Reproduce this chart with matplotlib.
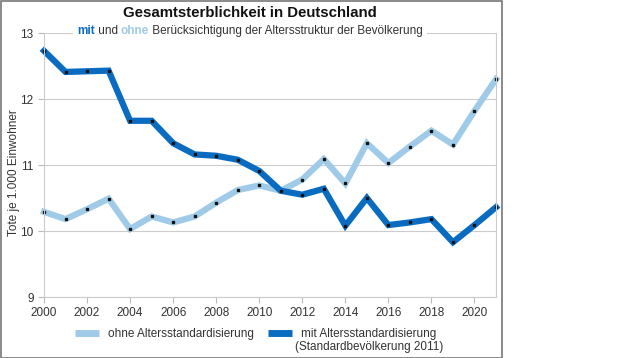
import numpy as np
import matplotlib
matplotlib.use("Agg")
import matplotlib.pyplot as plt
from matplotlib.patches import Rectangle

plt.rcParams['font.family'] = ['Liberation Sans', 'DejaVu Sans']

# data
years = list(range(2000, 2022))
ohne = [10.29, 10.18, 10.33, 10.49, 10.03, 10.22, 10.13, 10.22, 10.43, 10.62, 10.69,
        10.61, 10.78, 11.09, 10.72, 11.33, 11.03, 11.28, 11.52, 11.31, 11.82, 12.30]
mit = [12.73, 12.41, 12.42, 12.43, 11.67, 11.67, 11.33, 11.16, 11.14, 11.08, 10.91,
       10.61, 10.55, 10.64, 10.08, 10.50, 10.09, 10.13, 10.18, 9.83, 10.09, 10.36]
xticks = list(range(2000, 2021, 2))
yticks = [9, 10, 11, 12, 13]

dark = '#0a6cc0'
light = '#9fcbe8'
grey_text = '#333333'

fig = plt.figure(figsize=(6.4, 3.58), dpi=100)
W, H = 640, 358

# outer frame
fig.patches.append(Rectangle((0.5 / W, 0.5 / H), 501 / W, 1 - 1.5 / H, transform=fig.transFigure,
                             fill=False, edgecolor='#777777', linewidth=1.2))

ax = fig.add_axes([44 / W, 61 / H, 452 / W, 264 / H])
ax.set_xlim(2000, 2021)
ax.set_ylim(9, 13)
ax.set_xticks(xticks)
ax.set_yticks(yticks)
ax.grid(axis='y', color='#cccccc', linewidth=0.8)
ax.set_axisbelow(True)
for s in ax.spines.values():
    s.set_color('#cccccc')
    s.set_linewidth(0.8)
ax.spines['top'].set_visible(False)
ax.tick_params(colors='#bbbbbb', labelcolor=grey_text, labelsize=8.5, length=4, width=0.8)

l1, = ax.plot(years, ohne, color=light, lw=4.5, solid_joinstyle='miter',
              marker='s', ms=1.6, mfc='#111111', mec='#111111',
              label='ohne Altersstandardisierung', clip_on=False)
l2, = ax.plot(years, mit, color=dark, lw=4.5, solid_joinstyle='miter',
              marker='s', ms=1.6, mfc='#111111', mec='#111111',
              label='mit Altersstandardisierung', clip_on=False)

ax.set_ylabel('Tote je 1.000 Einwohner', fontsize=8.5, color=grey_text)
ax.yaxis.set_label_coords(-24 / 452, 0.47)

# title
fig.text(250 / W, 1 - 13 / H, 'Gesamtsterblichkeit in Deutschland', ha='center', va='center',
         fontsize=10.8, fontweight='bold', color='#111111')

# subtitle built from coloured pieces
pieces = [('mit', dark, 'bold'), (' und ', grey_text, 'normal'), ('ohne', light, 'bold'),
          (' Berücksichtigung der Altersstruktur der Bevölkerung', grey_text, 'normal')]
fig.canvas.draw()
r = fig.canvas.get_renderer()
texts = []
for s, c, w in pieces:
    t = fig.text(0, 1 - 31 / H, s, fontsize=8.5, color=c, fontweight=w, va='center', ha='left')
    texts.append(t)
widths = [t.get_window_extent(r).width for t in texts]
x = 250 - sum(widths) / 2
x0 = x
for t, w in zip(texts, widths):
    t.set_x(x / W)
    x += w
fig.patches.append(Rectangle(((x0 - 4) / W, 1 - 38 / H), (x - x0 + 8) / W, 14 / H,
                             transform=fig.transFigure, facecolor='white', edgecolor='none', zorder=2))
for t in texts:
    t.set_zorder(3)

# legend
leg = fig.legend(handles=[l1, l2], loc='center', bbox_to_anchor=(256 / W, 1 - 334 / H), ncol=2,
                 frameon=False, fontsize=8.5, handlelength=2.0, handletextpad=0.8, columnspacing=1.2,
                 labelcolor=grey_text)
for h in leg.legend_handles:
    h.set_marker('')
    h.set_linewidth(5)
    h.set_solid_capstyle('butt')
fig.canvas.draw()
bb = leg.get_texts()[1].get_window_extent(fig.canvas.get_renderer())
fig.text((bb.x0 + bb.x1) / 2 / W, 1 - 347 / H, '(Standardbevölkerung 2011)', fontsize=8.5,
         color=grey_text, va='center', ha='center')

fig.savefig('out.png', dpi=100)
